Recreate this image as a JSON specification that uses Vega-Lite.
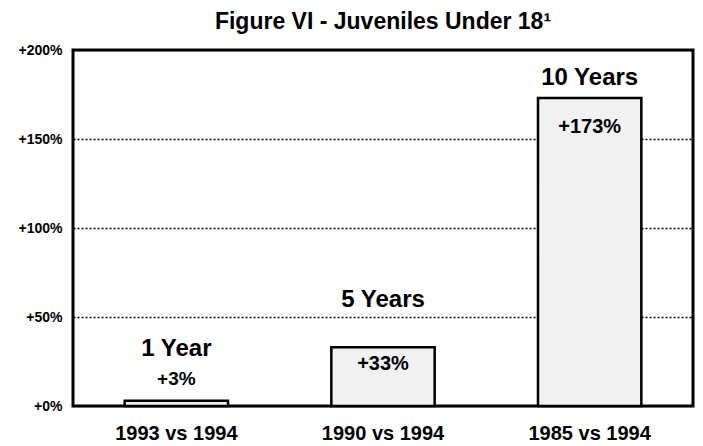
{
  "$schema": "https://vega.github.io/schema/vega-lite/v6.json",
  "width": 620,
  "height": 356,
  "autosize": {"type": "none"},
  "padding": {"left": 73, "top": 50, "right": 10, "bottom": 40},
  "background": "white",
  "title": {
    "text": "Figure VI - Juveniles Under 18¹",
    "font": "Liberation Sans",
    "fontSize": 23,
    "fontWeight": "bold",
    "color": "black",
    "anchor": "middle",
    "offset": 9
  },
  "data": {
    "values": [
      {"period": "1993 vs 1994", "change": 3, "span": "1 Year", "label": "+3%"},
      {"period": "1990 vs 1994", "change": 33, "span": "5 Years", "label": "+33%"},
      {"period": "1985 vs 1994", "change": 173, "span": "10 Years", "label": "+173%"}
    ]
  },
  "encoding": {
    "x": {
      "field": "period",
      "type": "nominal",
      "sort": null,
      "scale": {"paddingInner": 0.5, "paddingOuter": 0.25},
      "axis": {
        "title": null,
        "labelAngle": 0,
        "labelFont": "Liberation Sans",
        "labelFontSize": 20,
        "labelFontWeight": "bold",
        "labelColor": "black",
        "ticks": false,
        "domain": false,
        "labelPadding": 17
      }
    },
    "y": {
      "field": "change",
      "type": "quantitative",
      "scale": {"domain": [0, 200], "nice": false},
      "axis": {
        "title": null,
        "values": [0, 50, 100, 150, 200],
        "labelExpr": "'+' + datum.value + '%'",
        "labelFont": "Liberation Sans",
        "labelFontSize": 14,
        "labelFontWeight": "bold",
        "labelColor": "black",
        "labelPadding": 11,
        "ticks": false,
        "domain": false,
        "grid": true,
        "gridColor": "black",
        "gridDash": [2, 2],
        "gridWidth": 1.5,
        "gridOpacity": 1
      }
    }
  },
  "layer": [
    {
      "mark": {"type": "bar", "fill": "#f1f1f1", "stroke": "black", "strokeWidth": 2.5}
    },
    {
      "transform": [{"filter": "datum.period == '1993 vs 1994'"}],
      "mark": {"type": "text", "font": "Liberation Sans", "fontWeight": "bold", "fontSize": 24, "baseline": "middle", "dy": -52, "color": "black"},
      "encoding": {"text": {"field": "span"}}
    },
    {
      "transform": [{"filter": "datum.period == '1993 vs 1994'"}],
      "mark": {"type": "text", "font": "Liberation Sans", "fontWeight": "bold", "fontSize": 19, "baseline": "middle", "dy": -22, "color": "black"},
      "encoding": {"text": {"field": "label"}}
    },
    {
      "transform": [{"filter": "datum.period == '1990 vs 1994'"}],
      "mark": {"type": "text", "font": "Liberation Sans", "fontWeight": "bold", "fontSize": 24, "baseline": "middle", "dy": -47, "color": "black"},
      "encoding": {"text": {"field": "span"}}
    },
    {
      "transform": [{"filter": "datum.period == '1990 vs 1994'"}],
      "mark": {"type": "text", "font": "Liberation Sans", "fontWeight": "bold", "fontSize": 20, "baseline": "middle", "dy": 17, "color": "black"},
      "encoding": {"text": {"field": "label"}}
    },
    {
      "transform": [{"filter": "datum.period == '1985 vs 1994'"}],
      "mark": {"type": "text", "font": "Liberation Sans", "fontWeight": "bold", "fontSize": 24, "baseline": "middle", "dy": -20, "color": "black"},
      "encoding": {"text": {"field": "span"}}
    },
    {
      "transform": [{"filter": "datum.period == '1985 vs 1994'"}],
      "mark": {"type": "text", "font": "Liberation Sans", "fontWeight": "bold", "fontSize": 20, "baseline": "middle", "dy": 29, "color": "black"},
      "encoding": {"text": {"field": "label"}}
    }
  ],
  "config": {
    "view": {"stroke": "black", "strokeWidth": 3}
  }
}
